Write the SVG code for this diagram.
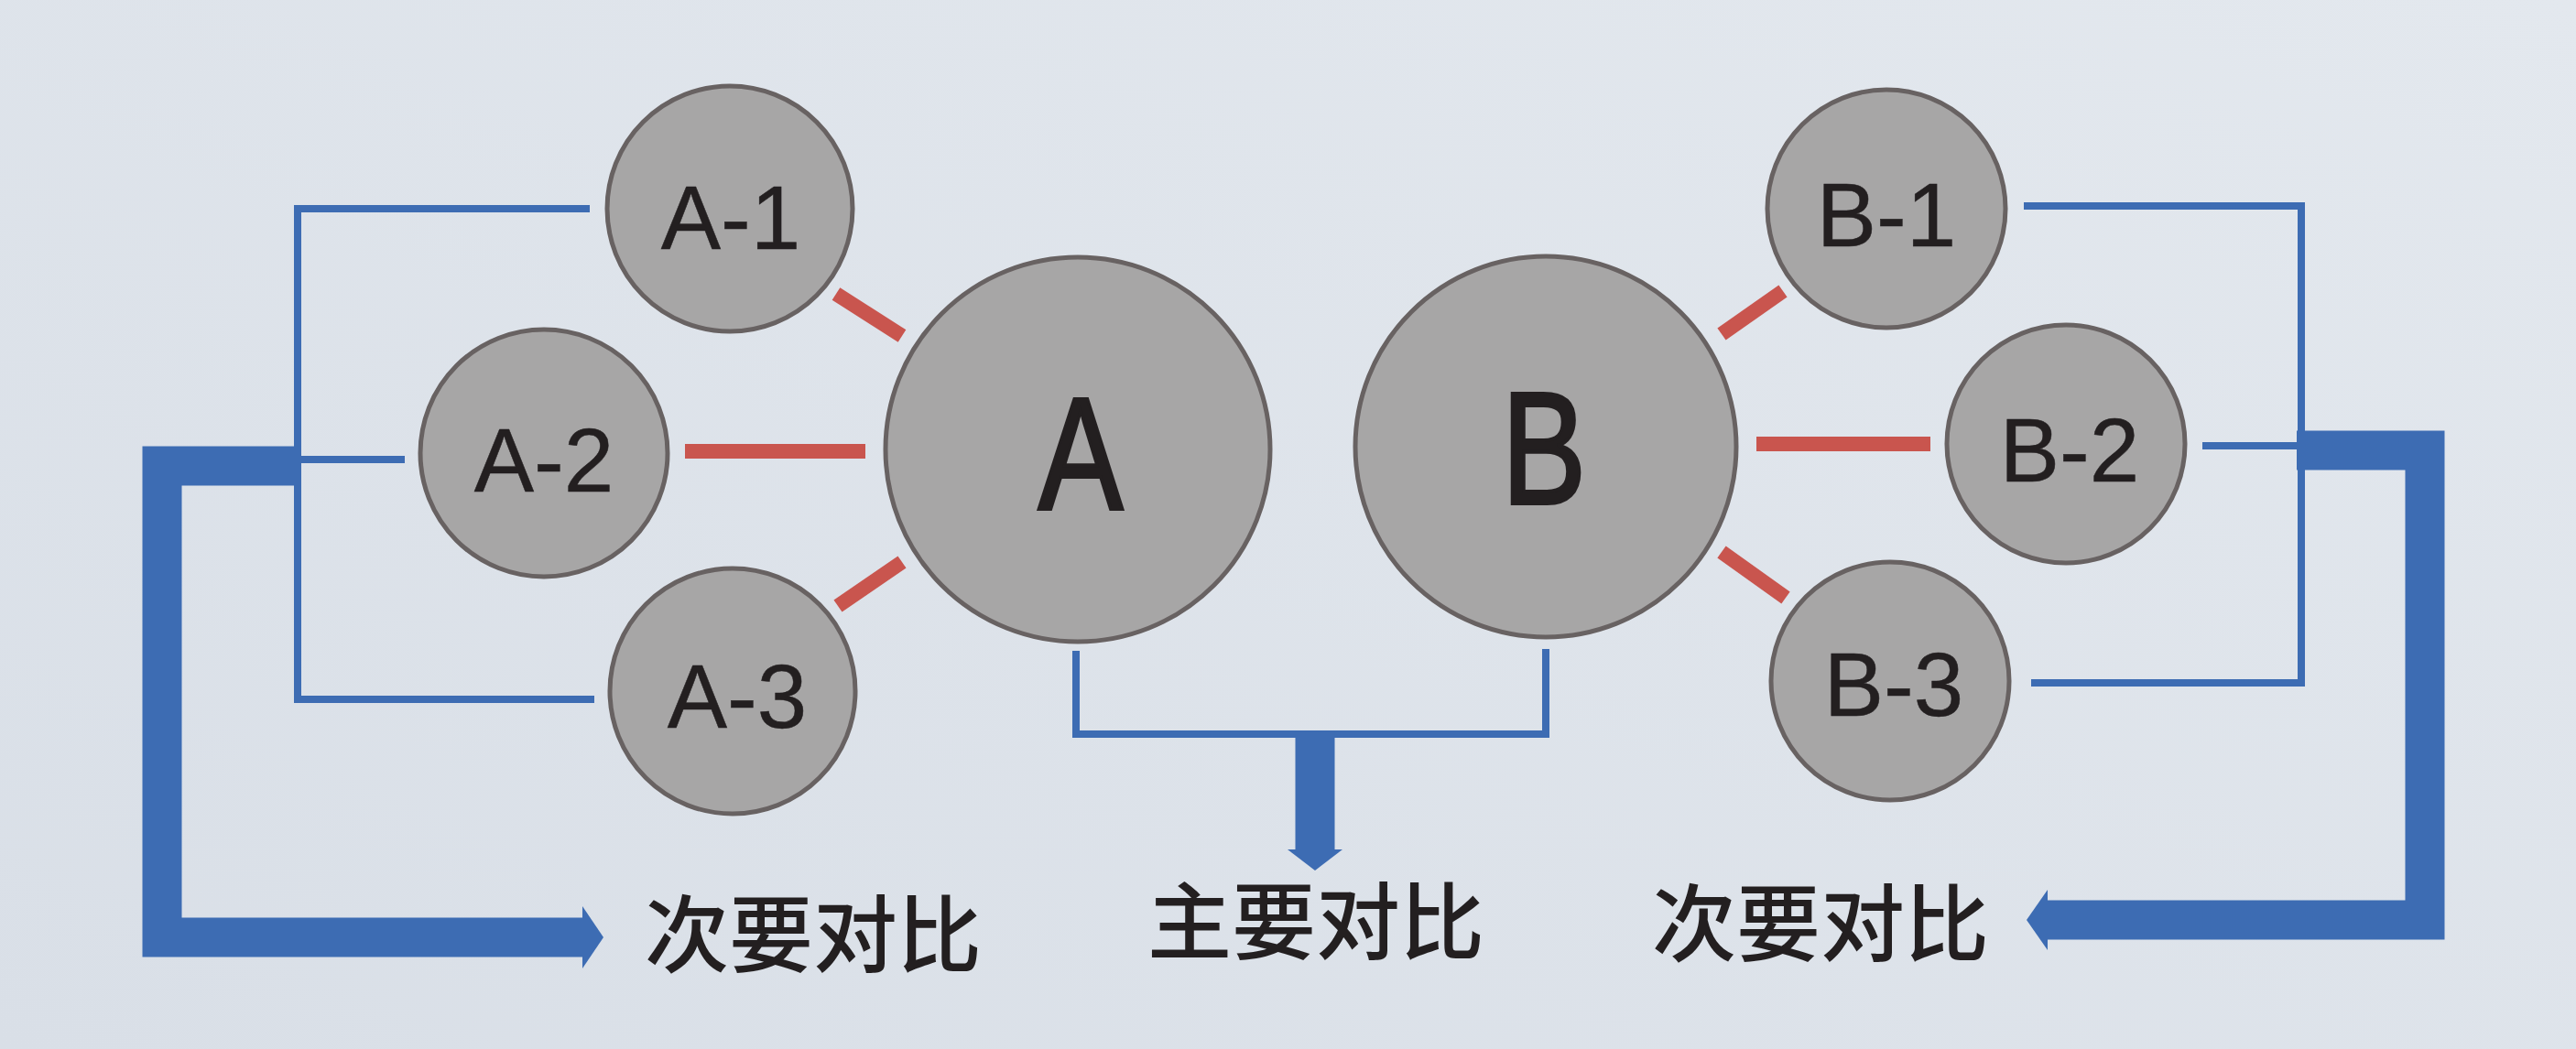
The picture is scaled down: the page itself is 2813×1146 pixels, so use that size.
<svg xmlns="http://www.w3.org/2000/svg" width="2813" height="1146" viewBox="0 0 2813 1146">
<style>
.node circle{fill:#a7a6a6;stroke:#686262;stroke-width:5}
.lbl{font-family:"Liberation Sans","DejaVu Sans",sans-serif;fill:#231f20;text-anchor:middle}
.small{font-size:98px;stroke:#231f20;stroke-width:0.5}
.big{font-size:174px;stroke:#231f20;stroke-width:4}
.cn{font-family:"Noto Sans CJK SC","Noto Sans CJK JP",sans-serif;font-size:92px;font-weight:500;fill:#231f20;text-anchor:middle}
.thin{fill:none;stroke:#3d6cb3;stroke-width:8;stroke-linecap:butt;stroke-linejoin:miter}
.thick{fill:none;stroke:#3d6cb3;stroke-width:43;stroke-linejoin:miter}
.head{fill:#3d6cb3}
.red{stroke:#c9554e;stroke-width:16}
</style>
<defs>
<linearGradient id="bg" x1="1" y1="0" x2="0" y2="1">
<stop offset="0" stop-color="#e3e8ee"/>
<stop offset="1" stop-color="#d9dfe7"/>
</linearGradient>
</defs>
<rect x="0" y="0" width="2813" height="1146" fill="url(#bg)"/>
<g id="connectors">
  <line class="red" x1="913" y1="321" x2="985" y2="367"/>
  <line class="red" x1="748" y1="493" x2="945" y2="493"/>
  <line class="red" x1="915" y1="662" x2="985" y2="614"/>
  <line class="red" x1="1880" y1="365" x2="1947" y2="318"/>
  <line class="red" x1="1918" y1="485" x2="2108" y2="485"/>
  <line class="red" x1="1880" y1="603" x2="1950" y2="653"/>
  <path class="thin" d="M644 228 H325 V764 H649"/>
  <path class="thin" d="M325 502 H442"/>
  <path class="thin" d="M2210 225 H2513 V746 H2218"/>
  <path class="thin" d="M2405 487 H2513"/>
  <path class="thin" d="M1175 711 V802 H1688 V709"/>
  <path class="thick" d="M329 509 H177 V1024 H638"/>
  <polygon class="head" points="636,990 659,1024 636,1058"/>
  <path class="thick" d="M2508 492 H2648 V1005 H2233"/>
  <polygon class="head" points="2236,972 2213,1005 2236,1038"/>
  <path class="thick" d="M1436 798 V930"/>
  <polygon class="head" points="1406,928 1466,928 1436,951"/>
</g>
<g id="node-A1" class="node"><circle cx="797" cy="228" r="134"/><text class="lbl small" x="798" y="272">A-1</text></g>
<g id="node-A2" class="node"><circle cx="594" cy="495" r="135"/><text class="lbl small" x="594" y="537">A-2</text></g>
<g id="node-A3" class="node"><circle cx="800" cy="755" r="134"/><text class="lbl small" x="805" y="795">A-3</text></g>
<g id="node-A" class="node"><circle cx="1177" cy="491" r="210"/><text class="lbl big" x="1180" y="556" textLength="92" lengthAdjust="spacingAndGlyphs">A</text></g>
<g id="node-B" class="node"><circle cx="1688" cy="488" r="208"/><text class="lbl big" x="1686" y="550" textLength="92" lengthAdjust="spacingAndGlyphs">B</text></g>
<g id="node-B1" class="node"><circle cx="2060" cy="228" r="130"/><text class="lbl small" x="2060" y="269">B-1</text></g>
<g id="node-B2" class="node"><circle cx="2256" cy="485" r="130"/><text class="lbl small" x="2260" y="526">B-2</text></g>
<g id="node-B3" class="node"><circle cx="2064" cy="744" r="130"/><text class="lbl small" x="2068" y="782">B-3</text></g>
<g id="label-left"><text class="cn" x="888" y="1055">次要对比</text></g>
<g id="label-center"><text class="cn" x="1437" y="1041">主要对比</text></g>
<g id="label-right"><text class="cn" x="1988" y="1043">次要对比</text></g>
</svg>
